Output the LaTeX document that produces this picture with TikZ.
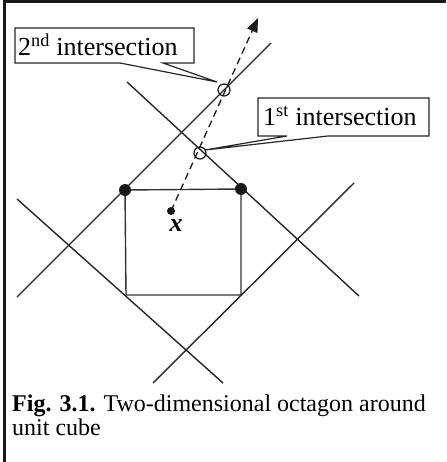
\documentclass[tikz,border=0pt]{standalone}
\usepackage{fontspec}
\setmainfont{Liberation Serif}
\usetikzlibrary{arrows.meta}
\begin{document}
\begin{tikzpicture}[x=1pt,y=-1pt,
  ln/.style={line width=1.4pt, draw=black!85},
  sq/.style={line width=1.4pt, draw=black!80},
  dot/.style={circle, fill=black!90, inner sep=0pt, minimum size=12pt},
  xdot/.style={circle, fill=black!90, inner sep=0pt, minimum size=8pt},
  ring/.style={circle, draw=black!90, line width=1.2pt, inner sep=0pt, minimum size=12pt},
  callout/.style={line width=1.2pt, draw=black!85},
  lab/.style={font=\fontsize{26}{30}\selectfont, inner sep=0pt, anchor=base west},
  captext/.style={font=\fontsize{24}{28}\selectfont, inner sep=0pt, anchor=base west}]
\useasboundingbox (0,0) rectangle (446,462);
% frame (top and left only)
\draw[line width=3pt, draw=black!90] (4,462) -- (4,2) -- (446,2);
% square corners
\coordinate (s1) at (125,190);
\coordinate (s2) at (241,189);
\coordinate (s3) at (241,295);
\coordinate (s4) at (126,295);
\draw[sq] (s1) -- (s2) -- (s3) -- (s4) -- cycle;
% octagon lines
\coordinate (a1) at (17,297);  \coordinate (a2) at (271,43);
\coordinate (c1) at (127,82);  \coordinate (c2) at (359,296);
\coordinate (d1) at (17,199);  \coordinate (d2) at (223,383);
\coordinate (e1) at (354,183); \coordinate (e2) at (153,383);
\draw[ln] (a1) -- (a2);
\draw[ln] (c1) -- (c2);
\draw[ln] (d1) -- (d2);
\draw[ln] (e1) -- (e2);
% corner dots
\node[dot] (p1) at (s1) {};
\node[dot] (p2) at (s2) {};
% point x and dashed ray
\node[xdot] (px) at (171,211) {};
\node[font=\fontsize{26}{30}\selectfont\bfseries\itshape, inner sep=0pt] (xl) at (176,226) {x};
\coordinate (tip) at (258,18);
\draw[line width=1.3pt, draw=black!90, dash pattern=on 7pt off 4.5pt,
  -{Triangle[length=14pt,width=11pt]}] (px.center) -- (tip);
% intersection rings
\node[ring] (i1) at (200,153) {};
\node[ring] (i2) at (224,90) {};
% callout 2
\coordinate (t2) at (217,82);
\draw[callout] (163,63) -- (194,63) -- (194,28) -- (15,28) -- (15,63) -- (120,63) -- (t2) -- cycle;
\node[lab] (l2) at (18,56) {2\textsuperscript{nd} intersection};
% callout 1
\coordinate (t1) at (205,150);
\draw[callout] (328,136) -- (429,136) -- (429,98) -- (258,98) -- (258,136) -- (287,136) -- (t1) -- cycle;
\node[lab] (l1) at (263,126) {1\textsuperscript{st} intersection};
% caption
\node[captext] (cap1) at (12,411) {\textbf{Fig. 3.1.} Two-dimensional octagon around};
\node[captext] (cap2) at (12,435) {unit cube};
\end{tikzpicture}
\end{document}
